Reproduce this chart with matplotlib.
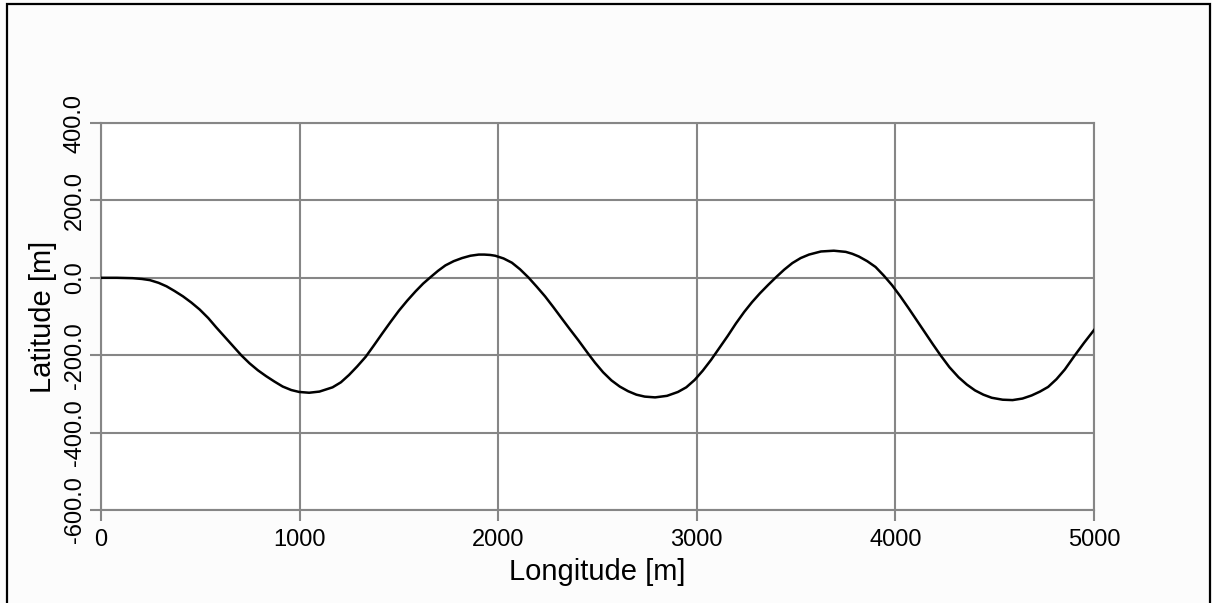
#!/usr/bin/env python3
"""Ground track: latitude vs. longitude."""

import matplotlib.pyplot as plt
from matplotlib.patches import Rectangle

# values
longitude = [0, 80, 160, 206, 246, 290, 330, 370, 413, 455, 497, 540, 580, 622,
             664, 706, 748, 790, 831, 873, 915, 958, 998, 1048, 1100, 1166,
             1208, 1249, 1290, 1333, 1375, 1416, 1458, 1500, 1542, 1584, 1622,
             1660, 1697, 1734, 1776, 1818, 1860, 1902, 1930, 1960, 1985, 2027,
             2069, 2110, 2152, 2194, 2236, 2278, 2320, 2361, 2403, 2453, 2487,
             2528, 2570, 2612, 2654, 2696, 2738, 2790, 2850, 2905, 2947, 2989,
             3030, 3072, 3114, 3156, 3197, 3239, 3278, 3318, 3360, 3400, 3440,
             3481, 3523, 3565, 3625, 3690, 3750, 3783, 3816, 3858, 3900, 3941,
             3983, 4025, 4067, 4109, 4151, 4189, 4227, 4272, 4318, 4360, 4401,
             4443, 4485, 4540, 4590, 4640, 4686, 4728, 4769, 4811, 4853, 4904,
             4950, 5000]
latitude = [0, 0, -1, -3, -6, -13, -22, -34, -48, -64, -82, -104, -128, -152,
            -176, -200, -221, -239, -254, -268, -281, -290, -295, -297, -294, -283,
            -270, -251, -229, -204, -174, -144, -114, -85, -59, -35, -15,
            2, 18, 32, 43, 51, 57, 60, 60, 59, 57, 50,
            39, 22, 1, -23, -48, -76, -105, -133, -161, -196, -219,
            -244, -265, -281, -293, -302, -307, -309, -305, -295, -283, -264,
            -240, -212, -181, -150, -118, -88, -63, -40, -18, 2, 21,
            38, 51, 60, 68, 70, 67, 62, 55, 43, 28, 6,
            -19, -48, -79, -111, -143, -172, -200, -231, -257, -276, -291,
            -302, -310, -315, -316, -312, -304, -294, -282, -262, -237, -200,
            -168, -135]

x_ticks = [0, 1000, 2000, 3000, 4000, 5000]
y_ticks = [-600, -400, -200, 0, 200, 400]

GRID = "#868686"

plt.rcParams["font.family"] = ["Liberation Sans", "DejaVu Sans"]

fig = plt.figure(figsize=(12.12, 6.03), dpi=100, facecolor="#fcfcfc")
ax = fig.add_axes([101 / 1212, 1 - 510 / 603, (1094 - 101) / 1212, (510 - 123) / 603])
ax.set_facecolor("white")

ax.plot(longitude, latitude, color="black", lw=1.8, zorder=3,
        solid_joinstyle="round")

ax.set_xlim(0, 5000)
ax.set_ylim(-600, 400)
ax.set_xticks(x_ticks)
ax.set_yticks(y_ticks)
ax.set_xticklabels([str(v) for v in x_ticks])
ax.set_yticklabels([f"{v:.1f}" for v in y_ticks], rotation=90, va="center")

ax.grid(True, color=GRID, lw=1.5)
ax.set_axisbelow(True)
for sp in ax.spines.values():
    sp.set_color(GRID)
    sp.set_linewidth(1.5)
ax.tick_params(axis="both", colors=GRID, length=8, width=1.5, labelsize=17,
               labelcolor="black")
ax.tick_params(axis="x", pad=6)
ax.tick_params(axis="y", pad=3)

ax.set_xlabel("Longitude [m]", fontsize=21, labelpad=5)
ax.set_ylabel("Latitude [m]", fontsize=21, labelpad=5)

# outer frame around the figure
fig.patches.append(Rectangle((7 / 1212, -0.1), (1210 - 7) / 1212, 1.1 - 4 / 603,
                             transform=fig.transFigure, fill=False,
                             edgecolor="black", lw=1.6))

fig.savefig("out.png", dpi=100, facecolor=fig.get_facecolor())
